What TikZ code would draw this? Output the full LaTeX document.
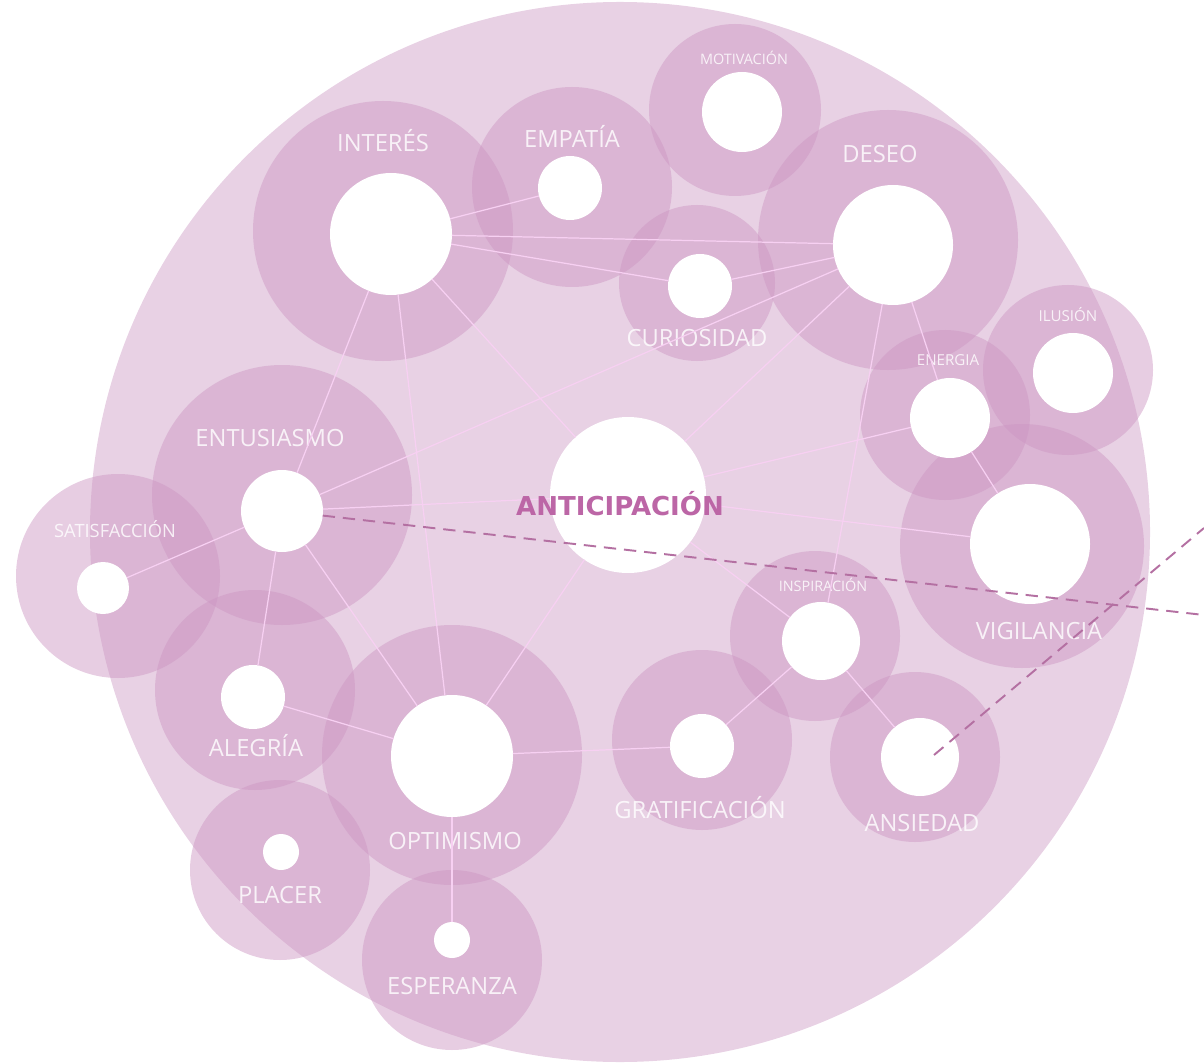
\documentclass[tikz,border=0pt]{standalone}
\usepackage{fontspec}
\setmainfont{Open Sans}
\newfontfamily\headfont{DejaVu Sans}

\definecolor{fieldpink}{RGB}{232,209,228}
\definecolor{ringpink}{RGB}{205,151,195}
\definecolor{linkpink}{RGB}{247,208,242}
\definecolor{headpink}{RGB}{188,102,166}
\definecolor{trailmauve}{RGB}{180,112,162}

\begin{document}
\begin{tikzpicture}[x=0.2mm, y=-0.2mm]
    \tikzset{
        ring/.style={circle, fill=ringpink, fill opacity=0.48, inner sep=0pt, minimum size=#1*0.4mm},
        core/.style={circle, fill=white, inner sep=0pt, outer sep=0pt, minimum size=#1*0.4mm},
        lbl/.style={text=white, text opacity=0.82, inner sep=0pt, text height=1.33ex, text depth=0pt, font=\fontsize{13.5}{15}\selectfont},
        lblsmall/.style={lbl, font=\fontsize{8.2}{10}\selectfont},
        link/.style={draw=linkpink, line width=0.7pt},
        trail/.style={draw=trailmauve, line width=1.1pt, dash pattern=on 7pt off 4.5pt}
    }
    \useasboundingbox (0,0) rectangle (1204,1064);

    % background field
    \node (field) at (620,532) [circle, fill=fieldpink, inner sep=0pt, minimum size=212mm] {};

    % halos
    \node (hInteres) at (383,231) [ring=130] {};
    \node (hEmpatia) at (572,187) [ring=100] {};
    \node (hMotivacion) at (735,110) [ring=86] {};
    \node (hDeseo) at (888,240) [ring=130] {};
    \node (hCuriosidad) at (697,283) [ring=78] {};
    \node (hIlusion) at (1068,370) [ring=85] {};
    \node (hEnergia) at (945,415) [ring=85] {};
    \node (hVigilancia) at (1022,546) [ring=122] {};
    \node (hEntusiasmo) at (282,495) [ring=130] {};
    \node (hSatisfaccion) at (118,576) [ring=102] {};
    \node (hAlegria) at (255,690) [ring=100] {};
    \node (hOptimismo) at (452,755) [ring=130] {};
    \node (hPlacer) at (280,870) [ring=90] {};
    \node (hEsperanza) at (452,960) [ring=90] {};
    \node (hGratificacion) at (702,740) [ring=90] {};
    \node (hInspiracion) at (815,636) [ring=85] {};
    \node (hAnsiedad) at (915,757) [ring=85] {};

    % cores
    \node (interes) at (391,234) [core=61] {};
    \node (empatia) at (570,188) [core=32] {};
    \node (motivacion) at (742,112) [core=40] {};
    \node (deseo) at (893,245) [core=60] {};
    \node (curiosidad) at (700,286) [core=32] {};
    \node (ilusion) at (1073,373) [core=40] {};
    \node (energia) at (950,418) [core=40] {};
    \node (vigilancia) at (1030,544) [core=60] {};
    \node (entusiasmo) at (282,511) [core=41] {};
    \node (anticipacion) at (628,495) [core=78] {};
    \node (satisfaccion) at (103,588) [core=26] {};
    \node (alegria) at (253,697) [core=32] {};
    \node (optimismo) at (452,756) [core=61] {};
    \node (placer) at (281,852) [core=18] {};
    \node (esperanza) at (452,940) [core=18] {};
    \node (gratificacion) at (702,746) [core=32] {};
    \node (inspiracion) at (821,641) [core=39] {};
    \node (ansiedad) at (920,757) [core=39] {};

    % labels
    \node (tInteres) at (383,145) [lbl] {INTERÉS};
    \node (tEmpatia) at (572,141) [lbl] {EMPATÍA};
    \node (tMotivacion) at (744,58) [lblsmall] {MOTIVACIÓN};
    \node (tDeseo) at (880,156) [lbl] {DESEO};
    \node (tCuriosidad) at (697,340) [lbl] {CURIOSIDAD};
    \node (tIlusion) at (1068,315) [lblsmall, font=\fontsize{8.6}{10}\selectfont] {ILUSIÓN};
    \node (tEnergia) at (948,359) [lblsmall, font=\fontsize{8.6}{10}\selectfont] {ENERGIA};
    \node (tVigilancia) at (1039,633) [lbl] {VIGILANCIA};
    \node (tEntusiasmo) at (270,440) [lbl] {ENTUSIASMO};
    \node (tSatisfaccion) at (115,531) [lbl, font=\fontsize{10.4}{12}\selectfont] {SATISFACCIÓN};
    \node (tAlegria) at (256,750) [lbl] {ALEGRÍA};
    \node (tOptimismo) at (455,843) [lbl] {OPTIMISMO};
    \node (tPlacer) at (280,897) [lbl] {PLACER};
    \node (tEsperanza) at (452,988) [lbl] {ESPERANZA};
    \node (tGratificacion) at (700,812) [lbl] {GRATIFICACIÓN};
    \node (tInspiracion) at (823,585) [lblsmall] {INSPIRACIÓN};
    \node (tAnsiedad) at (922,825) [lbl] {ANSIEDAD};

    % links
    \draw [link] (interes) -- (empatia);
    \draw [link] (interes) -- (deseo);
    \draw [link] (interes) -- (curiosidad);
    \draw [link] (curiosidad) -- (deseo);
    \draw [link] (interes) -- (entusiasmo);
    \draw [link] (interes) -- (optimismo);
    \draw [link] (interes) -- (anticipacion);
    \draw [link] (deseo) -- (entusiasmo);
    \draw [link] (deseo) -- (anticipacion);
    \draw [link] (deseo) -- (inspiracion);
    \draw [link] (deseo) -- (energia);
    \draw [link] (energia) -- (anticipacion);
    \draw [link] (energia) -- (vigilancia);
    \draw [link] (anticipacion) -- (vigilancia);
    \draw [link] (entusiasmo) -- (anticipacion);
    \draw [link] (entusiasmo) -- (satisfaccion);
    \draw [link] (entusiasmo) -- (alegria);
    \draw [link] (entusiasmo) -- (optimismo);
    \draw [link] (alegria) -- (optimismo);
    \draw [link] (optimismo) -- (anticipacion);
    \draw [link] (optimismo) -- (esperanza);
    \draw [link] (optimismo) -- (gratificacion);
    \draw [link] (gratificacion) -- (inspiracion);
    \draw [link] (anticipacion) -- (inspiracion);
    \draw [link] (inspiracion) -- (ansiedad);

    % centre title over the links
    \node (tAnticipacion) at (620,509) [lbl, text=headpink, text opacity=1, font=\headfont\bfseries\fontsize{14.8}{16}\selectfont] {ANTICIPACIÓN};

    % trails
    \coordinate (exitRight) at (1204,615);
    \coordinate (ansiMark) at (934,755);
    \coordinate (exitUp) at (1204,528);
    \draw [trail] (entusiasmo) -- (exitRight);
    \draw [trail] (ansiMark) -- (exitUp);
\end{tikzpicture}
\end{document}
